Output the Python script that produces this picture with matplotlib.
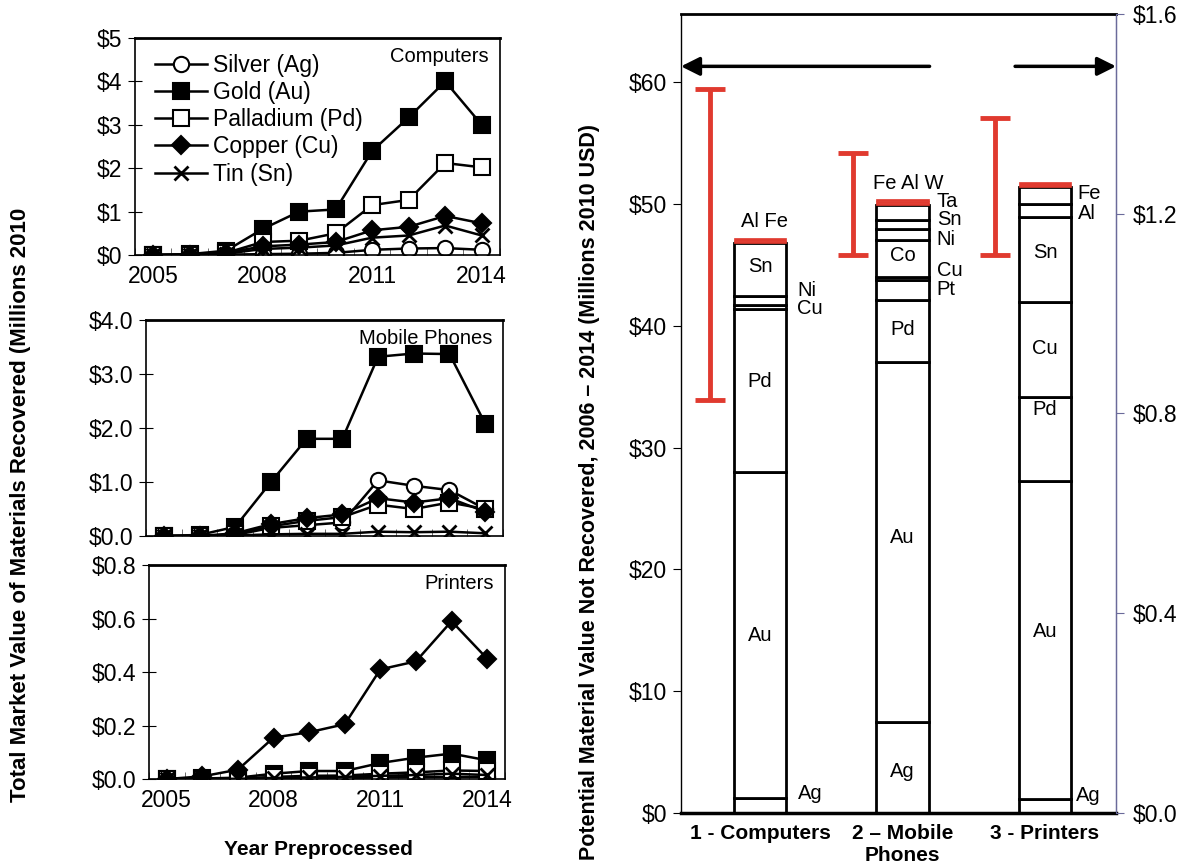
import numpy as np
import matplotlib
matplotlib.use("Agg")
import matplotlib.pyplot as plt

plt.rcParams['font.family'] = ['Liberation Sans', 'DejaVu Sans']

# ---------------- data: left panels ----------------
years = [2005, 2006, 2007, 2008, 2009, 2010, 2011, 2012, 2013, 2014]
series_names = ['Silver (Ag)', 'Gold (Au)', 'Palladium (Pd)', 'Copper (Cu)', 'Tin (Sn)']

computers_ag = [0, 0, 0.01, 0.02, 0.03, 0.05, 0.12, 0.15, 0.16, 0.12]
computers_au = [0, 0.02, 0.1, 0.6, 1.0, 1.05, 2.4, 3.17, 4.0, 3.0]
computers_pd = [0, 0.01, 0.05, 0.3, 0.33, 0.5, 1.15, 1.27, 2.12, 2.02]
computers_cu = [0, 0.01, 0.05, 0.2, 0.24, 0.3, 0.57, 0.65, 0.9, 0.73]
computers_sn = [0, 0.01, 0.03, 0.14, 0.17, 0.22, 0.4, 0.45, 0.68, 0.45]

phones_ag = [0, 0, 0.02, 0.15, 0.2, 0.25, 1.03, 0.93, 0.85, 0.5]
phones_au = [0, 0.02, 0.17, 1.0, 1.8, 1.8, 3.32, 3.38, 3.37, 2.08]
phones_pd = [0, 0, 0.03, 0.18, 0.28, 0.35, 0.58, 0.5, 0.62, 0.5]
phones_cu = [0, 0, 0.05, 0.22, 0.33, 0.4, 0.7, 0.62, 0.7, 0.45]
phones_sn = [0, 0, 0.01, 0.03, 0.04, 0.04, 0.08, 0.07, 0.08, 0.05]

printers_ag = [0, 0, 0.001, 0.002, 0.003, 0.004, 0.006, 0.007, 0.008, 0.008]
printers_au = [0, 0.002, 0.005, 0.02, 0.03, 0.03, 0.06, 0.08, 0.095, 0.07]
printers_pd = [0, 0, 0.002, 0.008, 0.012, 0.013, 0.02, 0.025, 0.032, 0.03]
printers_cu = [0, 0.01, 0.035, 0.155, 0.175, 0.205, 0.41, 0.44, 0.59, 0.45]
printers_sn = [0, 0, 0.001, 0.004, 0.006, 0.008, 0.012, 0.015, 0.02, 0.015]

# ---------------- data: right panel ----------------
bar_categories = ['1 - Computers', '2 \u2013 Mobile\nPhones', '3 - Printers']
computers_elems = ['Ag', 'Au', 'Pd', 'Cu', 'Ni', 'Sn', 'Al', 'Fe']
computers_vals = [1.2, 26.8, 13.35, 0.35, 0.75, 4.37, 0.18, 0.18]
phones_elems = ['Ag', 'Au', 'Pd', 'Pt', 'Cu', 'Co', 'Ni', 'Sn', 'Ta', 'W', 'Al', 'Fe']
phones_vals = [7.47, 29.53, 5.1, 1.65, 0.25, 3.05, 0.9, 0.75, 1.2, 0.18, 0.18, 0.18]
printers_elems = ['Ag', 'Au', 'Pd', 'Cu', 'Sn', 'Al', 'Fe', 'Other']
printers_vals = [0.027, 0.638, 0.168, 0.19, 0.171, 0.025, 0.035, 0.009]   # right axis units
red_elems = [['Al', 'Fe'], ['W', 'Al', 'Fe'], ['Other']]
range_low = [33.9, 45.8, 1.117]
range_high = [59.4, 54.2, 1.392]
left_ticks = [0, 10, 20, 30, 40, 50, 60]
right_ticks = [0.0, 0.4, 0.8, 1.2, 1.6]

RED = '#e03a2f'
fig = plt.figure(figsize=(11.87, 8.68), dpi=100)

marker_styles = [
    dict(marker='o', mfc='white', mec='black', ms=11, mew=1.5),
    dict(marker='s', mfc='black', mec='black', ms=12, mew=1.5),
    dict(marker='s', mfc='white', mec='black', ms=11, mew=1.5),
    dict(marker='D', mfc='black', mec='black', ms=9, mew=1.5),
    dict(marker='x', mfc='none', mec='black', ms=10, mew=2),
]


def line_panel(rect, data, ylim, yticks, fmt, title, show_x, legend=False):
    ax = fig.add_axes(rect)
    x = np.arange(len(years))
    for name, vals, st in zip(series_names, data, marker_styles):
        ax.plot(x, vals, color='black', lw=1.8, label=name, **st)
    ax.set_xlim(-0.5, len(years) - 0.5)
    ax.set_ylim(*ylim)
    ax.set_yticks(yticks)
    ax.set_yticklabels([fmt.format(v) for v in yticks])
    ax.set_xticks([0, 3, 6, 9])
    ax.set_xticklabels([str(years[i]) for i in [0, 3, 6, 9]] if show_x else [])
    ax.set_xticks(np.arange(-0.5, len(years), 1), minor=True)
    ax.tick_params(axis='x', which='major', length=0, labelsize=16.5, pad=7)
    ax.tick_params(axis='x', which='minor', direction='in', length=5, color='#555555')
    ax.tick_params(axis='y', direction='inout', length=10, labelsize=16.5, pad=4)
    for s in ax.spines.values():
        s.set_linewidth(1.2)
    ax.spines['top'].set_linewidth(2)
    ax.text(0.97, 0.96, title, transform=ax.transAxes, ha='right', va='top', fontsize=14.5)
    if legend:
        ax.legend(loc='upper left', bbox_to_anchor=(0.01, 1.0), frameon=False, fontsize=16.5,
                  handlelength=2.3, handletextpad=0.25, labelspacing=0.18, borderpad=0.2)
    return ax


line_panel([0.1137, 0.7062, 0.3075, 0.2500],
           [computers_ag, computers_au, computers_pd, computers_cu, computers_sn],
           (0, 5), [0, 1, 2, 3, 4, 5], '${:.0f}', 'Computers', True, legend=True)
line_panel([0.1230, 0.3825, 0.3008, 0.2488],
           [phones_ag, phones_au, phones_pd, phones_cu, phones_sn],
           (0, 4), [0.0, 1.0, 2.0, 3.0, 4.0], '${:.1f}', 'Mobile Phones', False)
line_panel([0.1255, 0.1025, 0.2999, 0.2465],
           [printers_ag, printers_au, printers_pd, printers_cu, printers_sn],
           (0, 0.8), [0.0, 0.2, 0.4, 0.6, 0.8], '${:.1f}', 'Printers', True)

fig.text(0.268, 0.021, 'Year Preprocessed', ha='center', va='center', fontsize=15, fontweight='bold')
fig.text(0.017, 0.418, 'Total Market Value of Materials Recovered (Millions 2010',
         rotation=90, ha='center', va='center', fontsize=16, fontweight='bold')

# ---------------- right panel ----------------
LTOP = 65.6
RTOP = 1.6
factor = LTOP / RTOP
ax = fig.add_axes([0.5737, 0.0634, 0.3665, 0.9205])
ax.set_xlim(-0.554, 2.498)
ax.set_ylim(0, LTOP)
width = 0.365

stacks = [(computers_elems, computers_vals, 1.0),
          (phones_elems, phones_vals, 1.0),
          (printers_elems, printers_vals, factor)]
for i, (elems, vals, f) in enumerate(stacks):
    bottom = 0.0
    for e, v in zip(elems, vals):
        h = v * f
        if e in red_elems[i]:
            ax.bar(i, h, width=width, bottom=bottom, color=RED, edgecolor=RED, lw=0.5, zorder=3)
        else:
            ax.bar(i, h, width=width, bottom=bottom, color='white', edgecolor='black', lw=2, zorder=2)
        bottom += h
    f_rng = factor if i == 2 else 1.0
    lo, hi = range_low[i] * f_rng, range_high[i] * f_rng
    ax.errorbar(i - 0.35, (lo + hi) / 2, yerr=(hi - lo) / 2, fmt='none', ecolor=RED,
                elinewidth=3.5, capsize=11, capthick=3.5, zorder=4)

# element labels (text, bar index, dx, y in left units, ha)
labels = [
    ('Sn', 0, 0.0, 44.9, 'center'), ('Pd', 0, 0.0, 35.4, 'center'), ('Au', 0, 0.0, 14.6, 'center'),
    ('Ni', 0, 0.26, 42.9, 'left'), ('Cu', 0, 0.26, 41.4, 'left'), ('Ag', 0, 0.27, 1.6, 'left'),
    ('Al Fe', 0, 0.035, 48.6, 'center'),
    ('Co', 1, 0.0, 45.8, 'center'), ('Pd', 1, 0.0, 39.7, 'center'), ('Au', 1, 0.0, 22.6, 'center'),
    ('Ag', 1, 0.0, 3.4, 'center'),
    ('Ta', 1, 0.24, 50.2, 'left'), ('Sn', 1, 0.24, 48.7, 'left'), ('Ni', 1, 0.24, 47.1, 'left'),
    ('Cu', 1, 0.24, 44.5, 'left'), ('Pt', 1, 0.24, 43.0, 'left'),
    ('Fe Al W', 1, 0.04, 51.7, 'center'),
    ('Sn', 2, 0.0, 46.0, 'center'), ('Cu', 2, 0.0, 38.1, 'center'), ('Pd', 2, 0.0, 33.1, 'center'),
    ('Au', 2, 0.0, 14.9, 'center'),
    ('Fe', 2, 0.23, 50.9, 'left'), ('Al', 2, 0.23, 49.2, 'left'), ('Ag', 2, 0.22, 1.4, 'left'),
]
for t, i, dx, y, ha in labels:
    ax.text(i + dx, y, t, ha=ha, va='center', fontsize=14.5, zorder=5)

# arrows indicating which axis applies
ax.annotate('', xy=(-0.554, 61.3), xytext=(1.19, 61.3),
            arrowprops=dict(arrowstyle='-|>', lw=2.5, color='black', mutation_scale=28,
                            shrinkA=0, shrinkB=0))
ax.annotate('', xy=(2.498, 61.3), xytext=(1.79, 61.3),
            arrowprops=dict(arrowstyle='-|>', lw=2.5, color='black', mutation_scale=28,
                            shrinkA=0, shrinkB=0))

ax.set_yticks(left_ticks)
ax.set_yticklabels(['${:d}'.format(v) for v in left_ticks])
ax.set_xticks([0, 1, 2])
ax.set_xticklabels(bar_categories, fontsize=15, fontweight='bold')
ax.tick_params(axis='x', length=0, pad=8)
ax.tick_params(axis='y', direction='out', length=6, labelsize=16.5, pad=4)
ax.spines['bottom'].set_linewidth(2.5)
ax.spines['top'].set_linewidth(2)
ax.spines['left'].set_linewidth(1)
ax.spines['right'].set_linewidth(1)
ax.spines['right'].set_color('#6a6a9a')

ax2 = ax.twinx()
ax2.set_ylim(0, RTOP)
ax2.set_yticks(right_ticks)
ax2.set_yticklabels(['${:.1f}'.format(v) for v in right_ticks])
ax2.tick_params(axis='y', direction='out', length=6, labelsize=16.5, pad=6, color='#6a6a9a')
for s in ['top', 'bottom', 'left']:
    ax2.spines[s].set_visible(False)
ax2.spines['right'].set_color('#6a6a9a')

fig.text(0.497, 0.433, 'Potential Material Value Not Recovered, 2006 \u2013 2014 (Millions 2010 USD)',
         rotation=90, ha='center', va='center', fontsize=15.5, fontweight='bold')

fig.savefig('out.png', dpi=100)
